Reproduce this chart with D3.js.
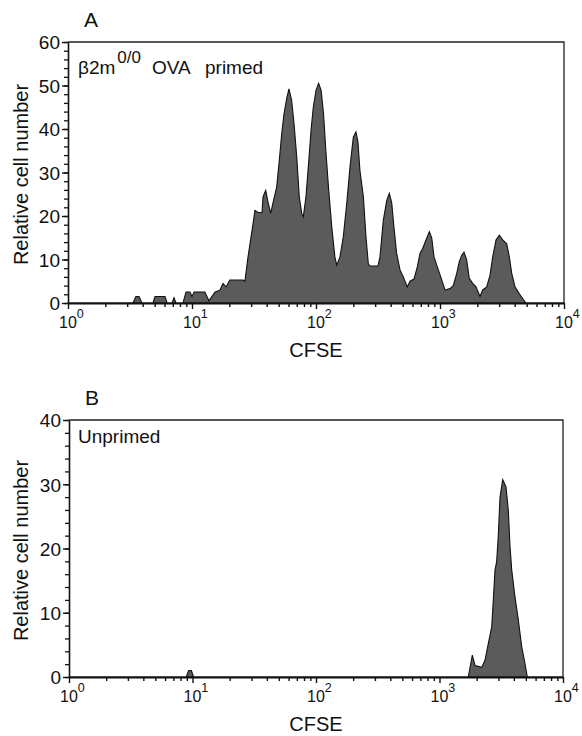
<!DOCTYPE html>
<html>
<head>
<meta charset="utf-8">
<script src="https://cdn.jsdelivr.net/npm/d3@7"></script>
<style>
  body { margin: 0; background: #fff; }
  svg text { font-family: "Liberation Sans", Arial, Helvetica, sans-serif; fill: #111; }
</style>
</head>
<body>
<div id="chart"></div>
<script>
// panel A: CFSE channel value and relative cell number
var cfseA = [1, 3.34, 3.53, 3.74, 3.95, 4.85, 5.03, 6.06, 6.29, 6.9,
  7.16, 7.43, 8.46, 8.95, 9.63, 10.0, 10.4, 12.7, 13.7, 15.3,
  16.8, 17.8, 18.8, 20.2, 25.8, 26.7, 28.3, 30.5, 32.2, 34.1,
  36.7, 37.4, 39.3, 41.0, 43.1, 45.0, 48.2, 50.6, 52.9, 55.2,
  58.0, 60.5, 63.6, 66.5, 69.9, 73.3, 76.7, 79.0, 83.0, 86.7,
  91.2, 95.1, 100, 105, 110, 115, 120, 126, 134, 142,
  147, 156, 166, 177, 188, 200, 210, 218, 226, 241,
  253, 264, 272, 316, 328, 349, 372, 390, 408, 425,
  447, 476, 506, 545, 573, 617, 656, 690, 726, 771,
  820, 857, 895, 951, 1014, 1097, 1205, 1280, 1364, 1431,
  1497, 1562, 1641, 1722, 1835, 1951, 2102, 2209, 2381, 2531,
  2661, 2829, 3008, 3204, 3452, 3623, 3788, 4027, 4363, 4699,
  4940, 10000];
var countA = [0, 0, 1.5, 1.5, 0, 0, 1.5, 1.5, 0, 0,
  1.2, 0, 0, 2.5, 2.5, 1.5, 2.5, 2.5, 0.5, 2.5,
  3, 4.5, 3.7, 5.3, 5.3, 5, 10.6, 16.7, 21.3, 20.8,
  20.8, 24.4, 25.9, 23.2, 20.6, 23, 26.7, 32.8, 38.9, 43.5,
  47, 49.2, 46.6, 41.2, 33.6, 24.4, 20.6, 19.8, 24.4, 31.3,
  39.7, 45, 48.9, 50.5, 48.9, 43.5, 35.1, 26.7, 17.5, 10.6,
  8.7, 10.6, 15.2, 22.9, 31.3, 38.1, 39.3, 37, 30.5, 24.4,
  15.2, 9.1, 8.5, 8.5, 10.6, 19, 23.6, 25.2, 23, 17.5,
  11.4, 7.6, 6, 3.7, 5, 5.5, 8.3, 11.4, 12.6, 14.5,
  16.4, 15, 10.6, 8.3, 6, 3, 3.3, 4, 6.8, 9.5,
  11, 11.7, 9.9, 5.7, 4.5, 3.7, 1.5, 3, 3.7, 6.4,
  10.6, 14.5, 15.6, 14.5, 13.6, 10.6, 6.8, 3.7, 2.1, 0.8,
  0, 0];

// panel B
var cfseB = [1, 8.9, 9.3, 9.8, 10.2, 1710, 1844, 1938, 2196, 2336,
  2484, 2648, 2728, 2813, 2904, 2993, 3090, 3251, 3454, 3606,
  3724, 3846, 4083, 4345, 4633, 4921, 5140, 10000];
var countB = [0, 0, 1, 1, 0, 0, 3.4, 1.8, 1.5, 2.6,
  5.2, 7.8, 12, 16.6, 18, 22, 28, 30.7, 29.6, 26,
  20.3, 16.6, 12.5, 8.9, 4.7, 2.1, 0, 0];

var decadeTicks = [1, 10, 100, 1000, 10000];
var decadeExp = ["0", "1", "2", "3", "4"];
var yTicksA = [0, 10, 20, 30, 40, 50, 60];
var yTicksB = [0, 10, 20, 30, 40];

var font = '"Liberation Sans", Arial, Helvetica, sans-serif';

var svg = d3.select("#chart")
  .append("svg")
  .attr("width", 582)
  .attr("height", 736);

function drawPanel(p) {
  var x = d3.scaleLog().domain([1, 10000]).range([p.left, p.right]);
  var y = d3.scaleLinear().domain([0, p.ymax]).range([p.bottom, p.top]);
  var g = svg.append("g");

  var data = p.cfse.map(function(c, i) { return {c: c, n: p.count[i]}; });

  // histogram
  var area = d3.area()
    .x(function(d) { return x(d.c); })
    .y0(y(0))
    .y1(function(d) { return y(d.n); });
  g.append("path")
    .datum(data)
    .attr("d", area)
    .attr("fill", "#5b5b5b")
    .attr("stroke", "#111")
    .attr("stroke-width", 1.1);

  // top and right frame
  g.append("path")
    .attr("d", "M" + x(1) + "," + y(p.ymax) + "H" + x(10000) + "V" + y(0))
    .attr("fill", "none")
    .attr("stroke", "#222")
    .attr("stroke-width", 1.3);

  // x axis, decades + minor ticks
  var minorX = x.ticks().filter(function(v) { return decadeTicks.indexOf(v) < 0; });
  g.append("g")
    .attr("transform", "translate(0," + y(0) + ")")
    .attr("color", "#111")
    .call(d3.axisBottom(x).tickValues(minorX).tickSize(4).tickSizeOuter(0).tickFormat(""))
    .call(function(a) { a.select(".domain").remove(); })
    .selectAll("line").attr("stroke-width", 1.4);
  var xa = g.append("g")
    .attr("transform", "translate(0," + y(0) + ")")
    .attr("color", "#111")
    .call(d3.axisBottom(x).tickValues(decadeTicks).tickSize(6).tickSizeOuter(0).tickFormat(""));
  xa.select(".domain").attr("stroke-width", 2.2);
  xa.selectAll("line").attr("stroke-width", 1.4);

  g.selectAll(".xlab")
    .data(decadeTicks)
    .enter()
    .append("text")
    .attr("class", "xlab")
    .attr("x", function(d) { return x(d) - 9; })
    .attr("y", y(0) + 25)
    .style("font-size", "16px")
    .each(function(d, i) {
      var t = d3.select(this);
      t.append("tspan").text("10");
      t.append("tspan").attr("dy", -10).style("font-size", "12.5px").text(decadeExp[i]);
    });

  // y axis
  g.append("g")
    .attr("transform", "translate(" + x(1) + ",0)")
    .attr("color", "#111")
    .call(d3.axisLeft(y).tickValues(y.ticks(p.ymax / 2)).tickSize(4).tickSizeOuter(0).tickFormat(""))
    .call(function(a) { a.select(".domain").remove(); })
    .selectAll("line").attr("stroke-width", 1.3);
  var ya = g.append("g")
    .attr("transform", "translate(" + x(1) + ",0)")
    .attr("color", "#111")
    .call(d3.axisLeft(y).tickValues(p.yTicks).tickSize(6).tickPadding(2).tickSizeOuter(0));
  ya.attr("font-family", font).attr("font-size", 19);
  ya.select(".domain").attr("stroke-width", 1.6);
  ya.selectAll("line").attr("stroke-width", 1.4);
  ya.selectAll("text").attr("dy", "0.36em");

  // axis titles
  g.append("text")
    .attr("transform", "translate(28," + ((y(0) + y(p.ymax)) / 2 + 2) + ")rotate(-90)")
    .attr("text-anchor", "middle")
    .style("font-size", "20px")
    .text("Relative cell number");
  g.append("text")
    .attr("x", x(100))
    .attr("y", y(0) + 54)
    .attr("text-anchor", "middle")
    .style("font-size", "20px")
    .text("CFSE");

  // panel letter
  g.append("text")
    .attr("x", p.left + 16)
    .attr("y", p.top - 15)
    .style("font-size", "21px")
    .text(p.letter);

  p.note(g, p.left + 10, p.top);
}

drawPanel({
  letter: "A", cfse: cfseA, count: countA, ymax: 60, yTicks: yTicksA,
  left: 68, right: 564, top: 42, bottom: 303,
  note: function(g, lx, top) {
    var t = g.append("text").attr("x", lx).attr("y", top + 32).style("font-size", "19px");
    t.append("tspan").text("β2m");
    t.append("tspan").attr("dx", 2).attr("dy", -11).style("font-size", "17px").text("0/0");
    t.append("tspan").attr("x", lx + 74).attr("dy", 11).text("OVA");
    t.append("tspan").attr("x", lx + 127).text("primed");
  }
});

drawPanel({
  letter: "B", cfse: cfseB, count: countB, ymax: 40, yTicks: yTicksB,
  left: 69, right: 563, top: 420, bottom: 677,
  note: function(g, lx, top) {
    g.append("text").attr("x", lx - 1).attr("y", top + 23).style("font-size", "19px").text("Unprimed");
  }
});
</script>
</body>
</html>
